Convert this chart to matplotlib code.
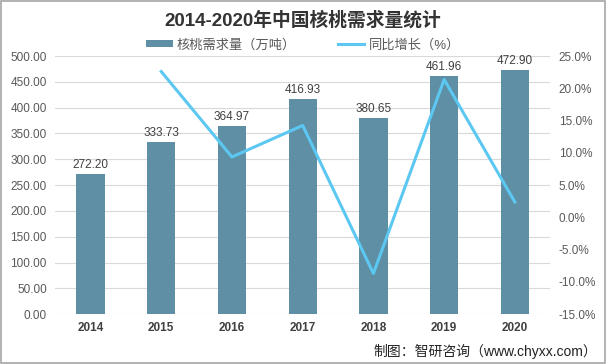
import matplotlib.pyplot as plt
import numpy as np
from matplotlib.patches import Rectangle

plt.rcParams['font.family'] = ['Liberation Sans', 'Noto Sans CJK SC', 'DejaVu Sans']

years = ["2014", "2015", "2016", "2017", "2018", "2019", "2020"]
demand = [272.20, 333.73, 364.97, 416.93, 380.65, 461.96, 472.90]
growth_years = ["2015", "2016", "2017", "2018", "2019", "2020"]
growth = [22.6, 9.36, 14.24, -8.70, 21.36, 2.37]

bar_color = "#5E8FA5"
line_color = "#5CC8F2"
text_color = "#595959"

fig = plt.figure(figsize=(6.06, 3.64), dpi=100)
fig.patch.set_facecolor("white")
fig.patches.append(Rectangle((0.001, 0.002), 0.997, 0.995, transform=fig.transFigure,
                             fill=False, edgecolor="#A6A6A6", linewidth=1.2))

ax = fig.add_axes([0.091, 0.137, 0.817, 0.709])
x = np.arange(len(years))
bars = ax.bar(x, demand, width=0.4, color=bar_color, zorder=2, label="核桃需求量（万吨）")
for xi, v in zip(x, demand):
    ax.text(xi, v + 6, f"{v:.2f}", ha="center", va="bottom", fontsize=8.5, color="#404040")

ax.set_xlim(-0.5, 6.5)
ax.set_ylim(0, 500)
ax.set_yticks(np.arange(0, 501, 50))
ax.set_yticklabels([f"{t:.2f}" for t in np.arange(0, 501, 50)], fontsize=8.5, color=text_color)
ax.set_xticks(x)
ax.set_xticklabels(years, fontsize=8.5, fontweight="bold", color="#404040")
ax.grid(axis="y", color="#D9D9D9", linewidth=0.8, zorder=0)
for s in ax.spines.values():
    s.set_visible(False)
ax.tick_params(length=0, pad=6)

ax2 = ax.twinx()
gx = [years.index(y) for y in growth_years]
line, = ax2.plot(gx, growth, color=line_color, linewidth=2.2, zorder=3, label="同比增长（%）")
ax2.set_ylim(-15, 25)
ax2.set_yticks(np.arange(-15, 26, 5))
ax2.set_yticklabels([f"{t:.1f}%" for t in np.arange(-15, 26, 5)], fontsize=8.5, color=text_color)
for s in ax2.spines.values():
    s.set_visible(False)
ax2.tick_params(length=0, pad=6)

fig.text(0.5, 0.945, "2014-2020年中国核桃需求量统计", ha="center", va="center",
         fontsize=13.5, fontweight="bold", color="#333333")
fig.legend(handles=[bars, line], loc="center", bbox_to_anchor=(0.5, 0.876), ncol=2,
           frameon=False, fontsize=9.5, handlelength=2.0, handletextpad=0.3,
           columnspacing=3.2, labelcolor=text_color, handleheight=0.5)

fig.text(0.985, 0.035, "制图：智研咨询（www.chyxx.com）", ha="right", va="center",
         fontsize=10, color="#222222")

fig.savefig("out.png", dpi=100)
